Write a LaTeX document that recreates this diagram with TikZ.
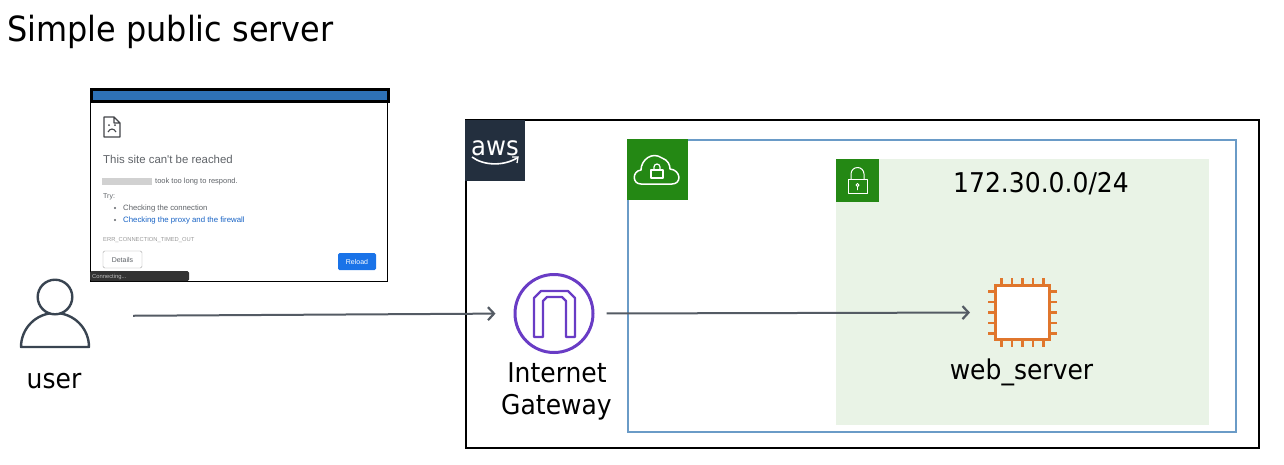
\documentclass[tikz,border=0pt]{standalone}
\usepackage{fontspec}
\setmainfont{DejaVu Sans}[FakeStretch=0.92]
\newfontfamily\shotfont{Liberation Sans}
\usetikzlibrary{arrows.meta,positioning}
\definecolor{awsink}{HTML}{232F3E}
\definecolor{awsgreen}{HTML}{248814}
\definecolor{vpcblue}{HTML}{6A9BC7}
\definecolor{subnetbg}{HTML}{E9F3E6}
\definecolor{linkgrey}{HTML}{545B64}
\definecolor{gatewaypurple}{HTML}{693CC5}
\definecolor{chiporange}{HTML}{E0762C}
\definecolor{shotgrey}{HTML}{5F6368}
\definecolor{shotblue}{HTML}{1A73E8}
\tikzset{
  label text/.style = {inner sep = 0pt, font = \fontsize{27.2}{27}\selectfont, text = black},
  shot text/.style = {inner sep = 0pt, anchor = base west, text = shotgrey},
  flow/.style = {draw = linkgrey, line width = 2pt, -{Straight Barb[length = 6pt, width = 13pt, line width = 2.2pt]}},
  badge/.style = {fill = awsgreen, draw = none, inner sep = 0pt},
  icon line/.style = {draw = white, line width = 1.5pt, line join = round}
}
\begin{document}
\begin{tikzpicture}[x = 1pt, y = -1pt]
\useasboundingbox (0,0) rectangle (1284,464);
\node[inner sep = 0pt, anchor = base west, font = \fontsize{34.7}{34}\selectfont] (title) at (7,41) {Simple public server};

% browser screenshot
\node[draw = black, fill = white, line width = 1.4pt, minimum width = 297pt, minimum height = 192pt, anchor = north west, inner sep = 0pt] (browser) at (90,89) {};
\node[draw = black, fill = {rgb,255:red,46;green,113;blue,181}, line width = 2.6pt, minimum width = 297pt, minimum height = 12pt, anchor = north west, inner sep = 0pt] (titlebar) at (90,88) {};
\draw[shotgrey!70!black, line width = 1.4pt, line join = round] (104,117) -- (114,117) -- (120,123) -- (120,137) -- (104,137) -- cycle (114,117) -- (114,123) -- (120,123);
\draw[shotgrey!70!black, line width = 1.1pt] (108,132) .. controls (110,128) and (114,128) .. (116,132);
\fill[shotgrey!70!black] (109,125) circle (1pt) (115,125) circle (1pt);
\node[shot text, font = \shotfont\fontsize{11.4}{11}\selectfont] (headline) at (103,163) {This site can't be reached};
\node[fill = black!18, minimum width = 50pt, minimum height = 7pt, inner sep = 0pt, anchor = west] (blanked) at (102,181) {};
\node[shot text, font = \shotfont\fontsize{7.5}{7}\selectfont] (toolong) at (155,183.5) {took too long to respond.};
\node[shot text, font = \shotfont\fontsize{7}{7}\selectfont] (try) at (103,198) {Try:};
\fill[shotgrey] (115,208) circle (1.1pt) (115,220) circle (1.1pt);
\node[shot text, font = \shotfont\fontsize{7.7}{7}\selectfont] (check1) at (123,210.5) {Checking the connection};
\node[shot text, text = shotblue!85!black, font = \shotfont\fontsize{7.8}{7}\selectfont] (check2) at (123,222.5) {Checking the proxy and the firewall};
\node[shot text, text = black!40, font = \shotfont\fontsize{5.8}{6}\selectfont] (errcode) at (103,241.5) {ERR\_CONNECTION\_TIMED\_OUT};
\node[draw = black!35, rounded corners = 1.5pt, text = shotgrey, font = \shotfont\fontsize{7}{7}\selectfont, minimum width = 39pt, minimum height = 17pt, inner sep = 0pt] (details) at (122.5,259.5) {Details};
\node[fill = shotblue, rounded corners = 1.5pt, text = white, font = \shotfont\fontsize{7}{7}\selectfont, minimum width = 38pt, minimum height = 17pt, inner sep = 0pt] (reload) at (357,261.5) {Reload};
\fill[black!80, rounded corners = 1.5pt] (90,281) -- (90,271) -- (189,271) -- (189,281) -- cycle;
\node[shot text, text = black!25, font = \shotfont\fontsize{5.8}{6}\selectfont] (connecting) at (92,278) {Connecting...};

% user
\node[minimum width = 72pt, minimum height = 72pt, inner sep = 0pt] (user) at (55,316) {};
\draw[awsink!90!white, line width = 2.4pt, line join = round] (21,347) arc[start angle = 180, end angle = 360, radius = 34] -- cycle;
\draw[awsink!90!white, line width = 2.4pt, fill = white] (55,297) circle (17.3);
\node[label text, anchor = base] (userlabel) at (54,388) {user};

% aws account
\node[draw = black, line width = 2pt, minimum width = 793pt, minimum height = 328pt, anchor = north west, inner sep = 0pt] (account) at (465,119) {};
\node[fill = awsink, minimum width = 60pt, minimum height = 61pt, anchor = north west, inner sep = 0pt] (awsbadge) at (465,120) {};
\node[text = white, inner sep = 0pt, anchor = base, font = \fontsize{26.5}{26}\selectfont] (awstext) at (495,155) {aws};
\draw[white, line width = 1.6pt] (472,157) .. controls (484,166) and (504,166) .. (517,158);
\draw[white, line width = 1.3pt] (512,157) -- (518,157) -- (517,163);

% vpc
\node[draw = vpcblue, line width = 2pt, minimum width = 608pt, minimum height = 292pt, anchor = north west, inner sep = 0pt] (vpc) at (627,139) {};
\node[badge, minimum width = 61pt, minimum height = 61pt, anchor = north west] (vpcbadge) at (627,139) {};
\draw[icon line] (641,184) .. controls (632,184) and (632,171) .. (641,170) .. controls (641,160) and (652,151) .. (662,158) .. controls (668,160) and (670,165) .. (670,169) .. controls (681,170) and (682,184) .. (672,184) -- cycle;
\draw[icon line] (651,170) rectangle (663,178);
\draw[icon line, line width = 1.2pt] (654,170) -- (654,167) arc[start angle = 180, end angle = 360, radius = 3] -- (660,170);

% subnet
\node[fill = subnetbg, minimum width = 373pt, minimum height = 266pt, anchor = north west, inner sep = 0pt] (subnet) at (836,159) {};
\node[badge, minimum width = 43pt, minimum height = 43pt, anchor = north west] (subnetbadge) at (836,159) {};
\draw[icon line, line width = 1pt] (848,179) rectangle (867,193);
\draw[icon line, line width = 1pt] (851,179) -- (851,174) arc[start angle = 180, end angle = 360, radius = 6.5] -- (864,179);
\draw[icon line, line width = .9pt] (857.5,185) circle (1.6) (857.5,186.6) -- (857.5,190);
\node[label text, anchor = base] (cidr) at (1041,192) {172.30.0.0/24};

% gateway
\node[circle, draw = gatewaypurple, line width = 3pt, minimum size = 78pt, inner sep = 0pt] (igw) at (554,313.5) {};
\draw[gatewaypurple, line width = 2.4pt, line join = round] (534,337) -- (534,298) -- (541,291) -- (568,291) -- (575,298) -- (575,337) -- (566,337) -- (566,301) -- (562,297) -- (547,297) -- (543,301) -- (543,337) -- cycle;
\node[label text, anchor = base] (igwlabel1) at (557,382) {Internet};
\node[label text, anchor = base] (igwlabel2) at (556.5,414) {Gateway};

% server chip
\node[draw = chiporange, fill = white, line width = 3pt, minimum size = 54pt, inner sep = 0pt] (server) at (1022.5,312.5) {};
\foreach \d in {-21,-10.5,0,10.5,21} {
  \draw[chiporange, line width = 2.6pt] (1022.5+\d,285) -- (1022.5+\d,278);
  \draw[chiporange, line width = 2.6pt] (1022.5+\d,340) -- (1022.5+\d,347);
  \draw[chiporange, line width = 2.6pt] (995,312.5+\d) -- (988,312.5+\d);
  \draw[chiporange, line width = 2.6pt] (1050,312.5+\d) -- (1057,312.5+\d);
}
\node[label text, anchor = base] (serverlabel) at (1021.5,379) {web\_server};

\draw[flow, shorten <= 42pt, shorten >= 18pt] (user.east) -- (igw.west);
\draw[flow, shorten <= 12pt, shorten >= 24pt] (igw.east) -- (server.west);
\end{tikzpicture}
\end{document}
